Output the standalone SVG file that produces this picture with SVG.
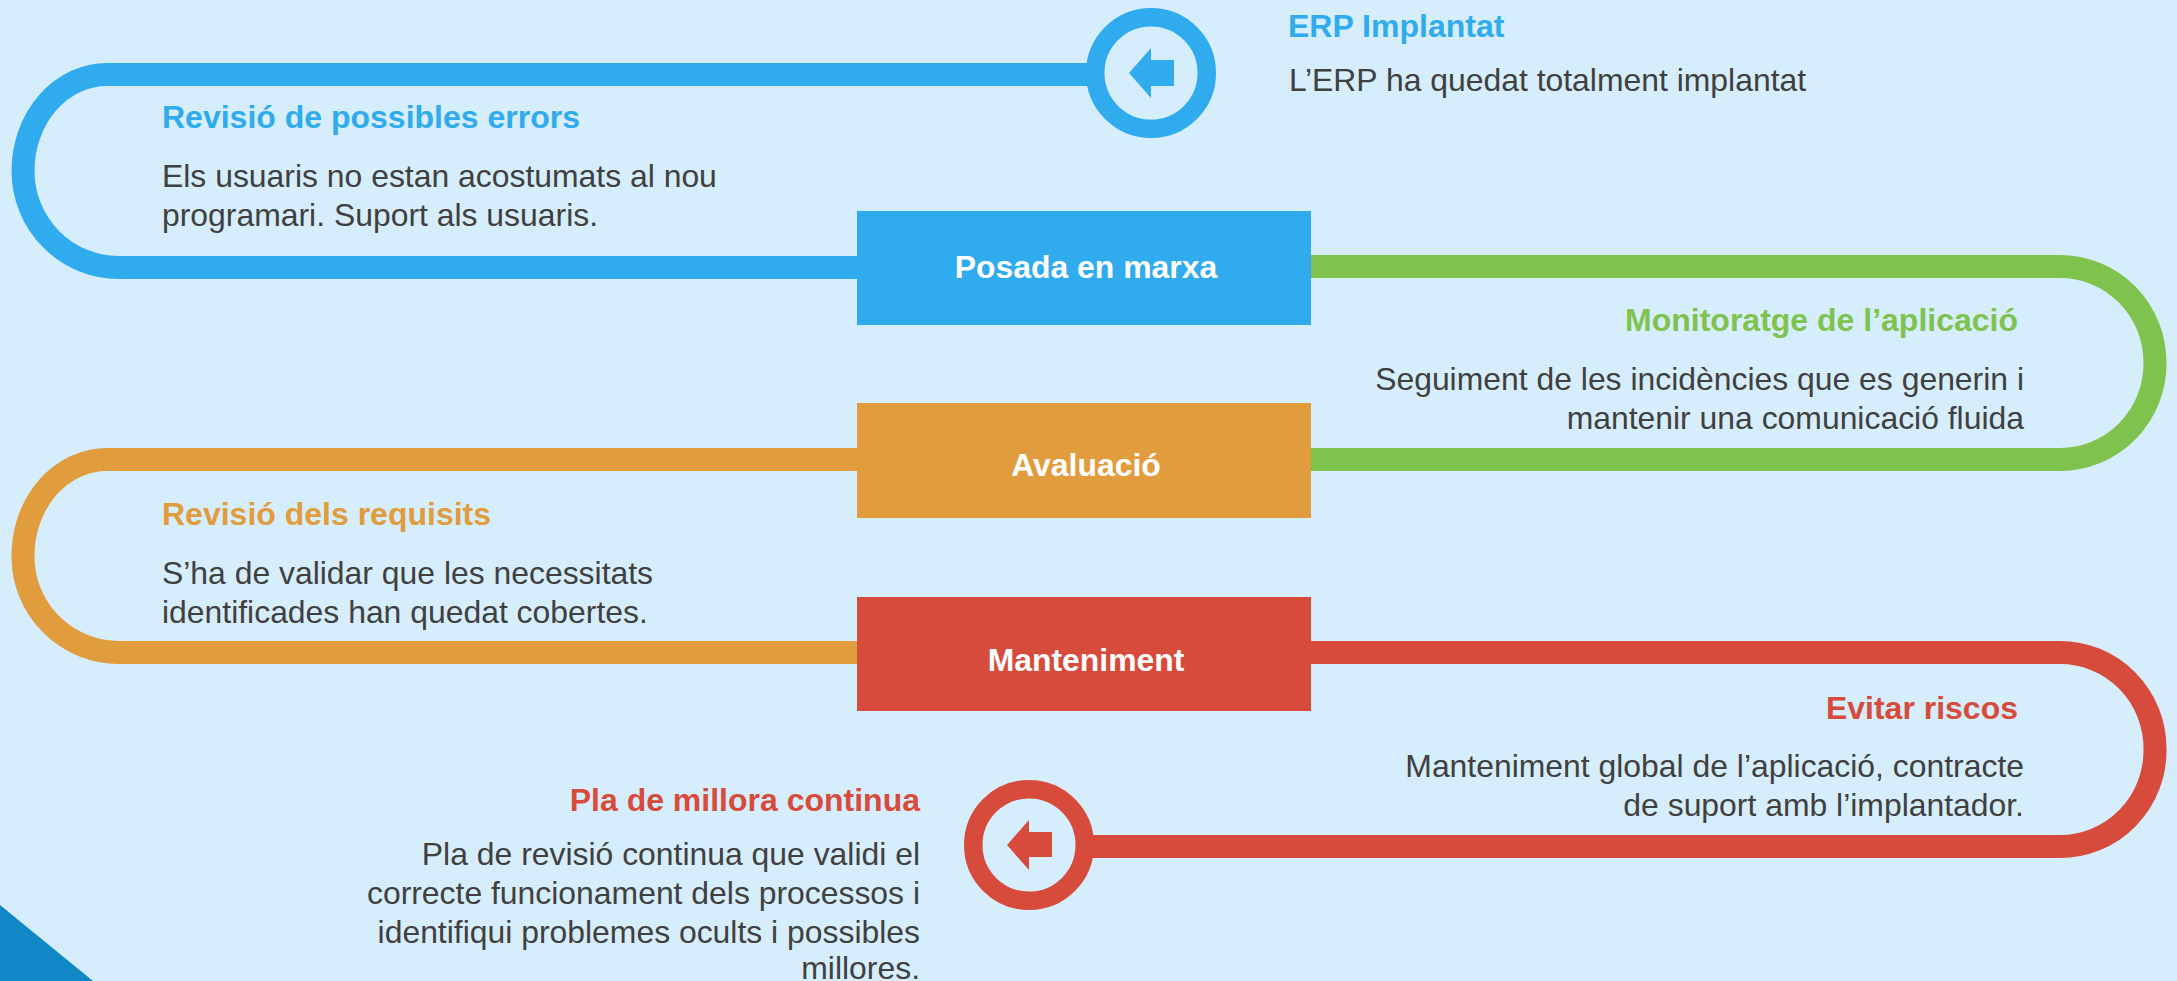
<svg xmlns="http://www.w3.org/2000/svg" width="2177" height="981" viewBox="0 0 2177 981">
<style>
text{font-family:"Liberation Sans",Arial,sans-serif}
.h{font-size:32px;font-weight:700}
.b{font-size:31.900px;fill:#404040}
.n{font-size:31.900px;font-weight:700;fill:#fff;text-anchor:middle}
.e{text-anchor:end}
.l{fill:none;stroke-width:23}
.ring{fill:#d6edfb;stroke-width:18.500}
</style>
<rect width="2177" height="981" fill="#d6edfb"/>
<polygon id="corner" points="0,905 93,981 0,981" fill="#1287c5"/>
<g id="connectors">
<path class="l" stroke="#30abed" d="M1090 74.500H107A84 96.500 0 0 0 23 171A96 96.500 0 0 0 119 267.500H860"/>
<path class="l" stroke="#7fc34e" d="M1308 266.500H2060A95 96 0 0 1 2155 362.500A95 96 0 0 1 2060 459.500H1308"/>
<path class="l" stroke="#e19c3e" d="M860 459.500H107A84 96 0 0 0 23 556A96 96 0 0 0 119 652.500H860"/>
<path class="l" stroke="#d64b3b" d="M1308 652.500H2060A95 96 0 0 1 2155 749A95 96 0 0 1 2060 846.500H1080"/>
</g>
<g id="node-posada"><rect x="857" y="211" width="454" height="114" fill="#30abed"/><text class="n" x="1086" y="278">Posada en marxa</text></g>
<g id="node-avaluacio"><rect x="857" y="403" width="454" height="115" fill="#e19c3e"/><text class="n" x="1086" y="476">Avaluació</text></g>
<g id="node-manteniment"><rect x="857" y="597" width="454" height="114" fill="#d64b3b"/><text class="n" x="1086" y="671">Manteniment</text></g>
<g id="end-erp"><circle class="ring" cx="1151" cy="73" r="55.750" stroke="#30abed"/><polygon points="1129,73 1151,48 1151,60 1174,60 1174,86 1151,86 1151,98" fill="#30abed"/></g>
<g id="end-pla"><circle class="ring" cx="1029" cy="845" r="55.750" stroke="#d64b3b"/><polygon points="1007,845 1029,820 1029,832 1052,832 1052,857 1029,857 1029,870" fill="#d64b3b"/></g>
<g id="labels">
<text class="h" x="1288" y="37" fill="#30abed">ERP Implantat</text>
<text class="b" x="1289" y="91">L’ERP ha quedat totalment implantat</text>
<text class="h" x="162" y="128" fill="#30abed">Revisió de possibles errors</text>
<text class="b" x="162" y="187">Els usuaris no estan acostumats al nou</text>
<text class="b" x="162" y="226">programari. Suport als usuaris.</text>
<text class="h e" x="2018" y="331" fill="#7fc34e">Monitoratge de l’aplicació</text>
<text class="b e" x="2024" y="390">Seguiment de les incidències que es generin i</text>
<text class="b e" x="2024" y="429">mantenir una comunicació fluida</text>
<text class="h" x="162" y="525" fill="#e19c3e">Revisió dels requisits</text>
<text class="b" x="162" y="584">S’ha de validar que les necessitats</text>
<text class="b" x="162" y="623">identificades han quedat cobertes.</text>
<text class="h e" x="2018" y="719" fill="#d64b3b">Evitar riscos</text>
<text class="b e" x="2024" y="777">Manteniment global de l’aplicació, contracte</text>
<text class="b e" x="2024" y="816">de suport amb l’implantador.</text>
<text class="h e" x="920" y="811" fill="#d64b3b">Pla de millora continua</text>
<text class="b e" x="920" y="865">Pla de revisió continua que validi el</text>
<text class="b e" x="920" y="904">correcte funcionament dels processos i</text>
<text class="b e" x="920" y="943">identifiqui problemes ocults i possibles</text>
<text class="b e" x="920" y="979">millores.</text>
</g>
</svg>
